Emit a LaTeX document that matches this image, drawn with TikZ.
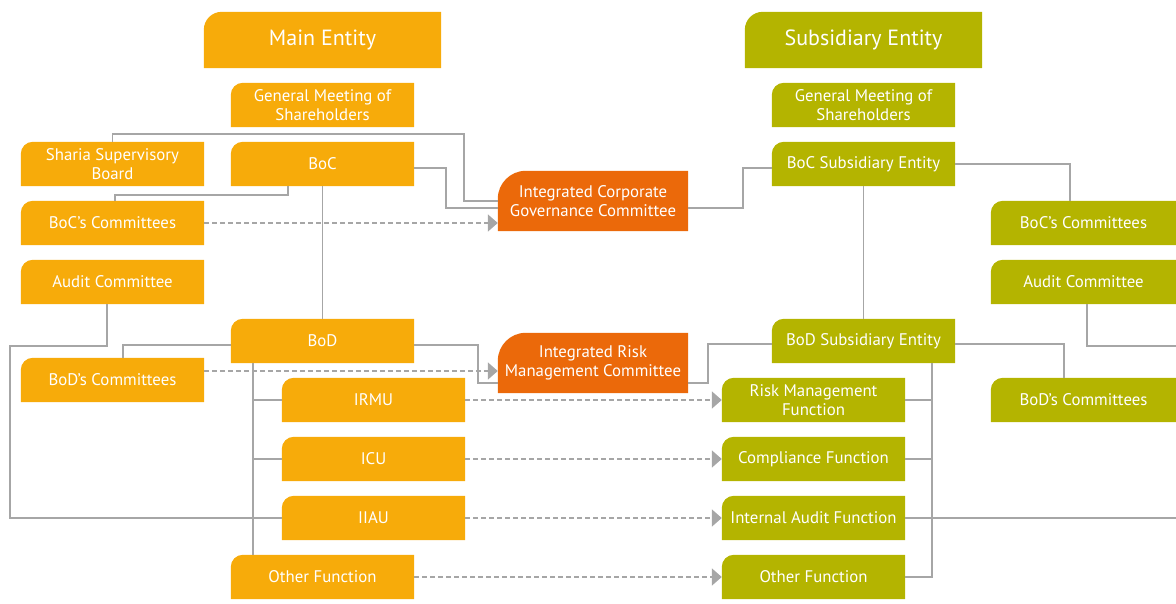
\documentclass[tikz,border=0pt]{standalone}
\usepackage{fontspec}
\setmainfont{PT Sans}
\usetikzlibrary{arrows.meta,backgrounds}
\definecolor{morange}{RGB}{247,171,10}
\definecolor{molive}{RGB}{180,180,0}
\definecolor{dorange}{RGB}{235,105,10}
\definecolor{lgray}{RGB}{166,166,166}
\newcommand\tlfill[3]{\fill[#3] (#1.south west) -- ([yshift=-#2pt]#1.north west) arc[start angle=180,end angle=90,radius=#2pt] -- (#1.north east) -- (#1.south east) -- cycle;}
\begin{document}
\begin{tikzpicture}[x=1pt,y=1pt,
  box/.style={rectangle,inner sep=0pt,minimum width=183pt,minimum height=44pt,text=white,align=center,font=\fontsize{16.8}{18.5}\selectfont},
  titlebox/.style={box,minimum width=237pt,minimum height=56pt,font=\fontsize{22}{26}\selectfont},
  commbox/.style={box,minimum width=190pt,minimum height=60pt},
  widebox/.style={box,minimum width=185pt},
  conn/.style={draw=lgray,line width=1.9pt},
  dconn/.style={conn,dash pattern=on 5pt off 3pt,-{Triangle[length=10pt,width=17pt,fill=lgray]}}]
\useasboundingbox (0,0) rectangle (1176,603);
% main entity side
\node[titlebox] (mainent) at (322.5,563) {Main Entity};
\node[titlebox] (subent) at (863.5,563) {Subsidiary Entity};
\node[box] (gmsm) at (322.5,498) {General Meeting of\\Shareholders};
\node[box] (gmss) at (863.5,498) {General Meeting of\\Shareholders};
\node[box] (sharia) at (112.5,439) {Sharia Supervisory\\Board};
\node[box] (boc) at (322.5,439) {BoC};
\node[box] (bocc) at (112.5,380) {BoC’s Committees};
\node[box] (audit) at (112.5,321) {Audit Committee};
\node[box] (bod) at (322.5,262) {BoD};
\node[box] (bodc) at (112.5,223) {BoD’s Committees};
\node[box] (irmu) at (373.5,203) {IRMU};
\node[box] (icu) at (373.5,144) {ICU};
\node[box] (iiau) at (373.5,85) {IIAU};
\node[box] (ofm) at (322.5,26) {Other Function};
% committees
\node[commbox] (icgc) at (593,402) {Integrated Corporate\\Governance Committee};
\node[commbox] (irmc) at (593,240) {Integrated Risk\\Management Committee};
% subsidiary side
\node[box] (bocsub) at (863.5,439) {BoC Subsidiary Entity};
\node[box] (bodsub) at (863.5,262) {BoD Subsidiary Entity};
\node[box] (rmf) at (813.5,203) {Risk Management\\Function};
\node[box] (cf) at (813.5,144) {Compliance Function};
\node[box] (iaf) at (813.5,85) {Internal Audit Function};
\node[box] (ofs) at (813.5,26) {Other Function};
\node[widebox] (boccs) at (1083.5,380) {BoC’s Committees};
\node[widebox] (audits) at (1083.5,321) {Audit Committee};
\node[widebox] (bodcs) at (1083.5,203) {BoD’s Committees};
% fills
\begin{scope}[on background layer]
\foreach \n in {gmsm,sharia,boc,bocc,audit,bod,bodc,irmu,icu,iiau,ofm}{\tlfill{\n}{12}{morange}}
\foreach \n in {gmss,bocsub,bodsub,rmf,cf,iaf,ofs,boccs,audits,bodcs}{\tlfill{\n}{12}{molive}}
\tlfill{mainent}{18}{morange}
\tlfill{subent}{18}{molive}
\tlfill{icgc}{28}{dorange}
\tlfill{irmc}{28}{dorange}
\end{scope}
% free ends and helpers
\coordinate (edgeA) at (1176,257);
\coordinate (edgeB) at (1176,85);
\coordinate (trunkM) at ([xshift=-69.5pt]bod.south);
\coordinate (trunkS) at ([xshift=68.5pt]bodsub.south);
\coordinate (bodcOut) at ([yshift=9pt]bodc.east);
% solid connectors, main side
\draw[conn] (sharia.north) |- (464,469) |- (icgc.west);
\draw[conn] ([yshift=-4pt]boc.east) -| (446,395) -- ([yshift=-7pt]icgc.west);
\draw[conn] ([xshift=-34.5pt]boc.south) |- ([xshift=2.5pt,yshift=6pt]bocc.north) -- ([xshift=2.5pt]bocc.north);
\draw[conn] (boc.south) -- (bod.north);
\draw[conn] ([xshift=-5.5pt]audit.south) |- (10,257) |- (iiau.west);
\draw[conn] ([yshift=-4pt]bod.west) -| ([xshift=10.5pt]bodc.north);
\draw[conn] (trunkM) -- (trunkM |- ofm.north);
\draw[conn] (irmu.west) -- (irmu.west -| trunkM);
\draw[conn] (icu.west) -- (icu.west -| trunkM);
\draw[conn] ([yshift=-4pt]bod.east) -| ([xshift=-20pt,yshift=-20pt]irmc.west) -- ([yshift=-20pt]irmc.west);
% solid connectors, subsidiary side
\draw[conn] ([yshift=-20pt]irmc.east) -| ([xshift=-64pt,yshift=-3pt]bodsub.west) -- ([yshift=-3pt]bodsub.west);
\draw[conn] ([yshift=-7pt]icgc.east) -| ([xshift=-29pt,yshift=-4pt]bocsub.west) -- ([yshift=-4pt]bocsub.west);
\draw[conn] (bocsub.south) -- (bodsub.north);
\draw[conn] (bocsub.east) -| ([xshift=-13.5pt]boccs.north);
\draw[conn] ([xshift=3.5pt]audits.south) |- (edgeA);
\draw[conn] ([yshift=-3pt]bodsub.east) -| ([xshift=-19.5pt]bodcs.north);
\draw[conn] (trunkS) |- (ofs.east);
\draw[conn] (rmf.east) -- (rmf.east -| trunkS);
\draw[conn] (cf.east) -- (cf.east -| trunkS);
\draw[conn] (iaf.east) -- (edgeB);
% dashed arrows
\draw[dconn] (bocc.east) -- (icgc.west |- bocc.east);
\draw[dconn] (bodcOut) -- (irmc.west |- bodcOut);
\draw[dconn] (irmu.east) -- (rmf.west);
\draw[dconn] (icu.east) -- (cf.west);
\draw[dconn] (iiau.east) -- (iaf.west);
\draw[dconn] (ofm.east) -- (ofs.west);
\end{tikzpicture}
\end{document}
